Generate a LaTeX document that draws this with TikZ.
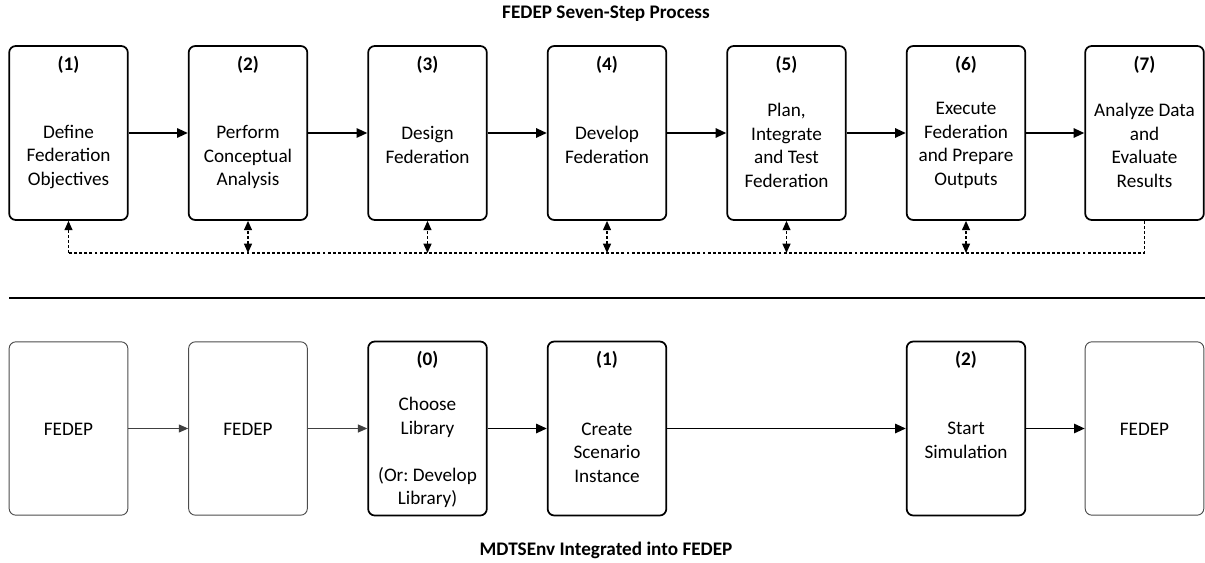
\documentclass[tikz,border=0pt]{standalone}
\usepackage{fontspec}
\setmainfont{Carlito}
\usetikzlibrary{arrows.meta}
\frenchspacing

\tikzset{
  >={Triangle[length=7pt,width=6pt]},
  stepbox/.style={draw, line width=1.3pt, rounded corners=5pt,
                  minimum width=89pt, minimum height=130.5pt},
  fedepbox/.style={draw=black!70, line width=0.7pt, rounded corners=5pt,
                   minimum width=89pt, minimum height=130pt},
  txt/.style={align=center, font=\fontsize{14.4}{17.6}\selectfont},
  num/.style={font=\fontsize{14.4}{17.6}\selectfont\bfseries},
  flow/.style={line width=1.3pt, -{Triangle[length=8pt,width=7pt]}},
  thinflow/.style={draw=black!75, line width=0.7pt, ->},
  feedback/.style={line width=1pt, dash pattern=on 2.2pt off 1.6pt},
}

\begin{document}
\begin{tikzpicture}[x=0.75pt, y=-0.75pt]
    \useasboundingbox (0, 0) rectangle (1205, 563);

    % top row: the seven steps
    \node (title1) [num] at (606, 14) {FEDEP Seven-Step Process};
    \node (s1) [stepbox] at (68.5, 133) {};
    \node (s2) [stepbox] at (248, 133) {};
    \node (s3) [stepbox] at (427.5, 133) {};
    \node (s4) [stepbox] at (607, 133) {};
    \node (s5) [stepbox] at (786.5, 133) {};
    \node (s6) [stepbox] at (966, 133) {};
    \node (s7) [stepbox] at (1144.5, 133) {};

    \node (n1) [num] at (68.5, 65) {(1)};
    \node (n2) [num] at (248, 65) {(2)};
    \node (n3) [num] at (427.5, 65) {(3)};
    \node (n4) [num] at (607, 65) {(4)};
    \node (n5) [num] at (786.5, 65) {(5)};
    \node (n6) [num] at (966, 65) {(6)};
    \node (n7) [num] at (1144.5, 65) {(7)};

    \node (t1) [txt] at (68.5, 157) {Define\\Federation\\Objectives};
    \node (t2) [txt] at (248, 157) {Perform\\Conceptual\\Analysis};
    \node (t3) [txt] at (427.5, 145) {Design\\Federation};
    \node (t4) [txt] at (607, 145) {Develop\\Federation};
    \node (t5) [txt] at (786.5, 145.5) {Plan,\\Integrate\\and Test\\Federation};
    \node (t6) [txt] at (966, 145.5) {Execute\\Federation\\and Prepare\\Outputs};
    \node (t7) [txt] at (1144.5, 145.5) {Analyze Data\\and\\Evaluate\\Results};

    \draw[flow] (s1) -- (s2);
    \draw[flow] (s2) -- (s3);
    \draw[flow] (s3) -- (s4);
    \draw[flow] (s4) -- (s5);
    \draw[flow] (s5) -- (s6);
    \draw[flow] (s6) -- (s7);

    % feedback line under the steps
    \coordinate (d1) at (68.5, 253);
    \coordinate (d2) at (248, 253);
    \coordinate (d3) at (427.5, 253);
    \coordinate (d4) at (607, 253);
    \coordinate (d5) at (786.5, 253);
    \coordinate (d6) at (966, 253);
    \draw[feedback] (s7.south) |- (d1);
    \draw[feedback, ->] (d1) -- (s1.south);
    \draw[feedback, <->] (d2) -- (s2.south);
    \draw[feedback, <->] (d3) -- (s3.south);
    \draw[feedback, <->] (d4) -- (s4.south);
    \draw[feedback, <->] (d5) -- (s5.south);
    \draw[feedback, <->] (d6) -- (s6.south);

    % separator
    \coordinate (sepl) at (9, 298);
    \coordinate (sepr) at (1205, 298);
    \draw[line width=1.3pt] (sepl) -- (sepr);

    % bottom row: MDTSEnv steps
    \node (f1) [fedepbox] at (68.5, 428.5) {};
    \node (f2) [fedepbox] at (248, 428.5) {};
    \node (b0) [stepbox] at (427.5, 428.5) {};
    \node (b1) [stepbox] at (607, 428.5) {};
    \node (b2) [stepbox] at (966, 428.5) {};
    \node (f3) [fedepbox] at (1144.5, 428.5) {};

    \node (tf1) [txt] at (68.5, 429) {FEDEP};
    \node (tf2) [txt] at (248, 429) {FEDEP};
    \node (tf3) [txt] at (1144.5, 429) {FEDEP};
    \node (m0) [num] at (427.5, 360) {(0)};
    \node (m1) [num] at (607, 360) {(1)};
    \node (m2) [num] at (966, 360) {(2)};
    \node (u0) [txt] at (427.5, 452.5) {Choose\\Library\\~\\(Or: Develop\\Library)};
    \node (u1) [txt] at (607, 452.5) {Create\\Scenario\\Instance};
    \node (u2) [txt] at (966, 440.5) {Start\\Simulation};

    \draw[thinflow] (f1) -- (f2);
    \draw[thinflow] (f2) -- (b0);
    \draw[flow] (b0) -- (b1);
    \draw[flow] (b1) -- (b2);
    \draw[flow] (b2) -- (f3);

    \node (title2) [num] at (606, 550) {MDTSEnv Integrated into FEDEP};
\end{tikzpicture}
\end{document}
